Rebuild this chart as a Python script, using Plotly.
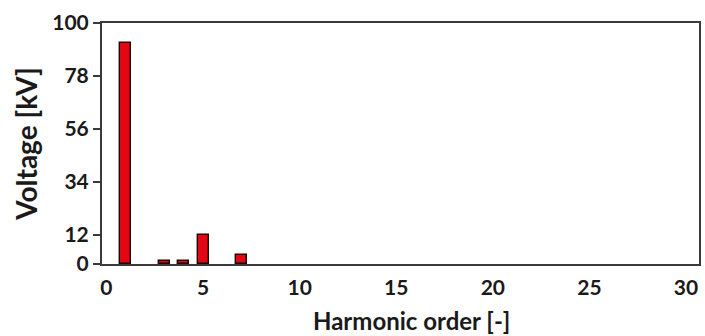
import plotly.graph_objects as go

# Harmonic spectrum of the voltage
harmonic_order = [1, 3, 4, 5, 7]
voltage_kv = [91.7, 1.2, 1.2, 12.0, 3.8]

y_tick_values = [0, 12, 34, 56, 78, 100]
x_tick_values = [0, 5, 10, 15, 20, 25, 30]

text_color = "#1a1a1a"
axis_color = "#3a3a3a"
font_family = "Lato"

fig = go.Figure(
    go.Bar(
        x=harmonic_order,
        y=voltage_kv,
        width=0.57,
        marker=dict(color="#e30613", line=dict(color="#1a0000", width=1.4)),
    )
)

fig.update_layout(
    width=705,
    height=336,
    margin=dict(l=102, r=4, t=23, b=72),
    paper_bgcolor="white",
    plot_bgcolor="white",
    showlegend=False,
    font=dict(family=font_family, color=text_color),
    bargap=0,
    annotations=[
        dict(
            text="Harmonic order [-]",
            xref="paper",
            yref="paper",
            x=0.519,
            y=-0.235,
            xanchor="center",
            yanchor="middle",
            showarrow=False,
            font=dict(size=24, family=font_family, weight="bold", color=text_color),
        )
    ],
)

fig.update_xaxes(
    range=[-0.23, 30.67],
    tickvals=x_tick_values,
    ticktext=[str(v) for v in x_tick_values],
    tickfont=dict(size=21, family=font_family, weight="bold", color=text_color),
    showgrid=False,
    zeroline=False,
    showline=True,
    linecolor=axis_color,
    linewidth=2,
    mirror=True,
    ticks="",
    ticklabelstandoff=4,
)

fig.update_yaxes(
    range=[0, 100],
    tickvals=y_tick_values,
    ticktext=[str(v) for v in y_tick_values],
    tickfont=dict(size=21, family=font_family, weight="bold", color=text_color),
    showgrid=False,
    zeroline=False,
    showline=True,
    linecolor=axis_color,
    linewidth=2,
    mirror=True,
    ticks="outside",
    ticklen=7,
    tickwidth=1.5,
    tickcolor=axis_color,
    title=dict(
        text="Voltage [kV]",
        font=dict(size=28, family=font_family, weight="bold", color=text_color),
        standoff=6,
    ),
)

fig.write_html("out.html")
